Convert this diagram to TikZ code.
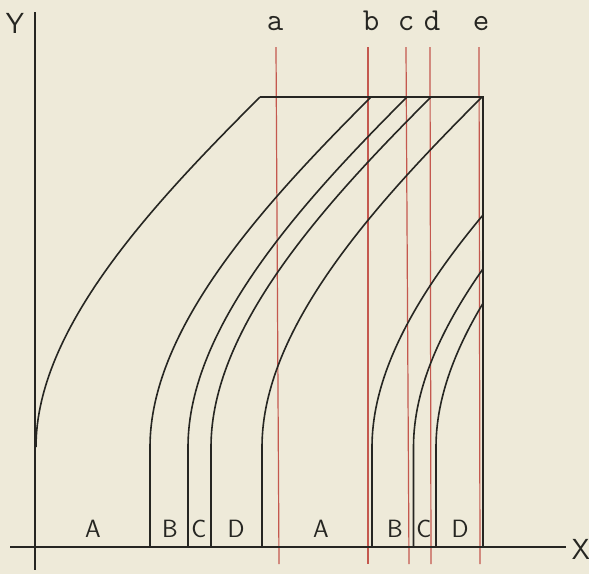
\documentclass[tikz,border=0pt]{standalone}
\usepackage{fontspec}
\definecolor{paper}{RGB}{238,234,217}
\definecolor{ink}{RGB}{38,38,34}
\definecolor{redline}{RGB}{196,88,78}
\newcommand{\shapecurve}[2]{(#1,547) -- (#1,447) .. controls (#1,327) and (#2-104,201) .. (#2,97)}
\begin{document}
\begin{tikzpicture}[x=1pt,y=-1pt,
  blk/.style={draw=ink,line width=1.6pt},
  redl/.style={draw=redline,line width=1.2pt},
  caplab/.style={font=\sffamily\fontsize{25}{25}\selectfont,text=ink,inner sep=0pt,anchor=base},
  axlab/.style={font=\sffamily\fontsize{29}{29}\selectfont,text=ink,inner sep=0pt,anchor=base},
  lowlab/.style={font=\ttfamily\fontsize{32}{32}\selectfont,text=ink,inner sep=0pt,anchor=base}]
\fill[paper] (0,0) rectangle (589,574);
\useasboundingbox (0,0) rectangle (589,574);
% coordinates
\coordinate (ytop) at (35,12);
\coordinate (ybot) at (35,570);
\coordinate (xl) at (10,547);
\coordinate (xr) at (566,547);
\coordinate (tl) at (260,97);
\coordinate (tr) at (483,97);
\coordinate (br) at (483,547);
% red lines
\coordinate (at) at (276,47); \coordinate (ab) at (279,564);
\coordinate (bt) at (368,47); \coordinate (bb) at (368,564);
\coordinate (ct) at (406,47); \coordinate (cb) at (409,564);
\coordinate (dt) at (430,47); \coordinate (db) at (431,564);
\coordinate (et) at (479,47); \coordinate (eb) at (480,564);
\draw[redl] (at) -- (ab);
\draw[redl] (bt) -- (bb);
\draw[redl] (ct) -- (cb);
\draw[redl] (dt) -- (db);
\draw[redl] (et) -- (eb);
% axes
\draw[blk] (ytop) -- (ybot);
\draw[blk] (xl) -- (xr);
% frame
\draw[blk] (tl) -- (tr) -- (br);
% first set of curves
\draw[blk] (36,447) .. controls (36,327) and (156,201) .. (260,97);
\draw[blk] \shapecurve{150}{371};
\draw[blk] \shapecurve{188}{407};
\draw[blk] \shapecurve{211}{431};
\draw[blk] \shapecurve{262}{482};
% second set, cut at the right frame line
\begin{scope}
\clip (0,0) rectangle (483,574);
\draw[blk] \shapecurve{372}{593};
\draw[blk] \shapecurve{413.5}{634.5};
\draw[blk] \shapecurve{436}{657};
\end{scope}
% labels
\node[axlab] (Y) at (15,33) {Y};
\node[axlab] (X) at (581,559) {X};
\node[lowlab] (la) at (275,30) {a};
\node[lowlab] (lb) at (371,30) {b};
\node[lowlab] (lc) at (406,30) {c};
\node[lowlab] (ld) at (432,30) {d};
\node[lowlab] (le) at (481,30) {e};
\node[caplab] (A1) at (93,537) {A};
\node[caplab] (B1) at (170,537) {B};
\node[caplab] (C1) at (199,537) {C};
\node[caplab] (D1) at (236,537) {D};
\node[caplab] (A2) at (321,537) {A};
\node[caplab] (B2) at (395,537) {B};
\node[caplab] (C2) at (424,537) {C};
\node[caplab] (D2) at (460,537) {D};
\end{tikzpicture}
\end{document}
